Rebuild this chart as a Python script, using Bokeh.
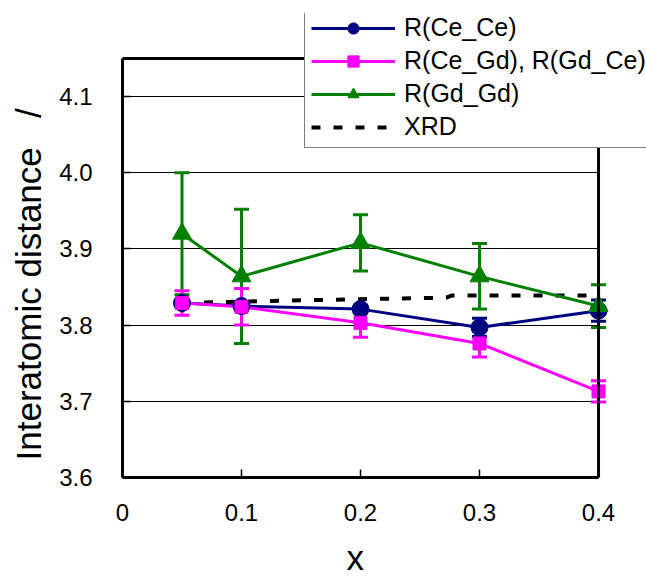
from bokeh.plotting import figure
from bokeh.models import (ColumnDataSource, Whisker, TeeHead, Legend, LegendItem,
                          FixedTicker, BoxAnnotation)
from bokeh.embed import file_html
from bokeh.resources import INLINE

# ---- data ----
x_vals = [0.05, 0.1, 0.2, 0.3, 0.4]

ce_ce = [3.829, 3.825, 3.821, 3.797, 3.819]
ce_ce_err = [0.005, 0.005, 0.005, 0.012, 0.014]

ce_gd = [3.829, 3.824, 3.803, 3.776, 3.713]
ce_gd_err = [0.016, 0.024, 0.019, 0.018, 0.014]

gd_gd = [3.920, 3.864, 3.908, 3.864, 3.825]
gd_gd_err = [0.080, 0.088, 0.037, 0.043, 0.028]

xrd_x = [0.05, 0.1, 0.2, 0.272, 0.277, 0.4]
xrd_y = [3.829, 3.831, 3.834, 3.836, 3.839, 3.839]

x_ticks = [0, 0.1, 0.2, 0.3, 0.4]
x_tick_labels = ["0", "0.1", "0.2", "0.3", "0.4"]
y_ticks = [3.6, 3.7, 3.8, 3.9, 4.0, 4.1]
y_tick_labels = ["3.6", "3.7", "3.8", "3.9", "4.0", "4.1"]

labels = ["R(Ce_Ce)", "R(Ce_Gd), R(Gd_Ce)", "R(Gd_Gd)", "XRD"]
colors = ["#000080", "#FF00FF", "#008000"]

# axes box of the chart
X0, X1 = 0.0, 0.4
Y0, Y1 = 3.6, 4.15

FONT = "Liberation Sans"
NB = "\u00a0"

# the frame is extended to the top/right so that the legend box can stick out
p = figure(width=646, height=580, x_range=(X0, 0.4403), y_range=(Y0, 4.209),
           output_backend="svg", toolbar_location=None,
           min_border_left=122, min_border_right=0,
           min_border_top=13, min_border_bottom=103)
p.background_fill_color = "white"
p.border_fill_color = "white"
p.outline_line_color = None

p.xgrid.grid_line_color = None
p.ygrid.grid_line_color = "black"
p.ygrid.grid_line_width = 1.2
p.ygrid.cross_bounds = (X0, X1)

p.xaxis.ticker = FixedTicker(ticks=x_ticks)
p.yaxis.ticker = FixedTicker(ticks=y_ticks)
p.xaxis.major_label_overrides = {t: l for t, l in zip(x_ticks, x_tick_labels)}
p.yaxis.major_label_overrides = {t: l for t, l in zip(y_ticks, y_tick_labels)}
p.xaxis.bounds = (X0, X1)
p.yaxis.bounds = (Y0, Y1)

for ax in (p.xaxis, p.yaxis):
    ax.axis_line_color = "black"
    ax.axis_line_width = 3
    ax.major_tick_in = 8
    ax.major_tick_out = 0
    ax.major_tick_line_color = "black"
    ax.major_tick_line_width = 1.5
    ax.minor_tick_line_color = None
    ax.major_label_text_font = FONT
    ax.major_label_text_font_size = "24px"
    ax.major_label_text_color = "black"
    ax.axis_label_text_font = FONT
    ax.axis_label_text_font_size = "35px"
    ax.axis_label_text_font_style = "normal"
    ax.axis_label_text_color = "black"

p.xaxis.axis_label = "x" + NB * 6
p.yaxis.axis_label = "Interatomic distance" + NB * 3 + "/" + NB * 8
p.xaxis.major_label_standoff = 26
p.yaxis.major_label_standoff = 30
p.xaxis.axis_label_standoff = 14
p.yaxis.axis_label_standoff = 8

# box around the axes area (top and right edges)
p.add_layout(BoxAnnotation(left=X0, right=X1, bottom=Y0, top=Y1,
                           fill_alpha=0, fill_color=None,
                           line_color="black", line_alpha=1.0, line_width=3))

# ---- error bars ----
def add_err(vals, errs, color):
    src = ColumnDataSource(dict(x=x_vals,
                                upper=[v + e for v, e in zip(vals, errs)],
                                lower=[v - e for v, e in zip(vals, errs)]))
    w = Whisker(source=src, base="x", upper="upper", lower="lower",
                line_color=color, line_width=3,
                upper_head=TeeHead(size=15, line_color=color, line_width=3),
                lower_head=TeeHead(size=15, line_color=color, line_width=3))
    p.add_layout(w)

add_err(gd_gd, gd_gd_err, colors[2])
add_err(ce_gd, ce_gd_err, colors[1])
add_err(ce_ce, ce_ce_err, colors[0])

# ---- lines & markers ----
xrd_line = p.line(xrd_x, xrd_y, line_color="black", line_width=4, line_dash="9 13")

l0 = p.line(x_vals, ce_ce, line_color=colors[0], line_width=3)
l2 = p.line(x_vals, gd_gd, line_color=colors[2], line_width=3)
l1 = p.line(x_vals, ce_gd, line_color=colors[1], line_width=3)

m0 = p.scatter(x_vals, ce_ce, marker="circle", size=17, fill_color=colors[0], line_color=colors[0])
m2 = p.scatter(x_vals, gd_gd, marker="triangle", size=19, fill_color=colors[2], line_color=colors[2])
m1 = p.scatter(x_vals, ce_gd, marker="square", size=13, fill_color=colors[1], line_color="#E000E0")

legend = Legend(items=[
    LegendItem(label=labels[0], renderers=[l0, m0]),
    LegendItem(label=labels[1], renderers=[l1, m1]),
    LegendItem(label=labels[2], renderers=[l2, m2]),
    LegendItem(label=labels[3], renderers=[xrd_line]),
], location=(182, 329))
legend.label_text_font = FONT
legend.label_text_font_size = "25px"
legend.label_text_color = "black"
legend.glyph_width = 84
legend.glyph_height = 28
legend.label_height = 28
legend.label_width = 260
legend.label_standoff = 9
legend.spacing = 4
legend.padding = 6
legend.margin = 0
legend.border_line_color = "black"
legend.border_line_width = 1.5
legend.background_fill_color = "white"
legend.background_fill_alpha = 1.0
p.add_layout(legend, "center")

open("out.html", "w").write(file_html(p, INLINE))
